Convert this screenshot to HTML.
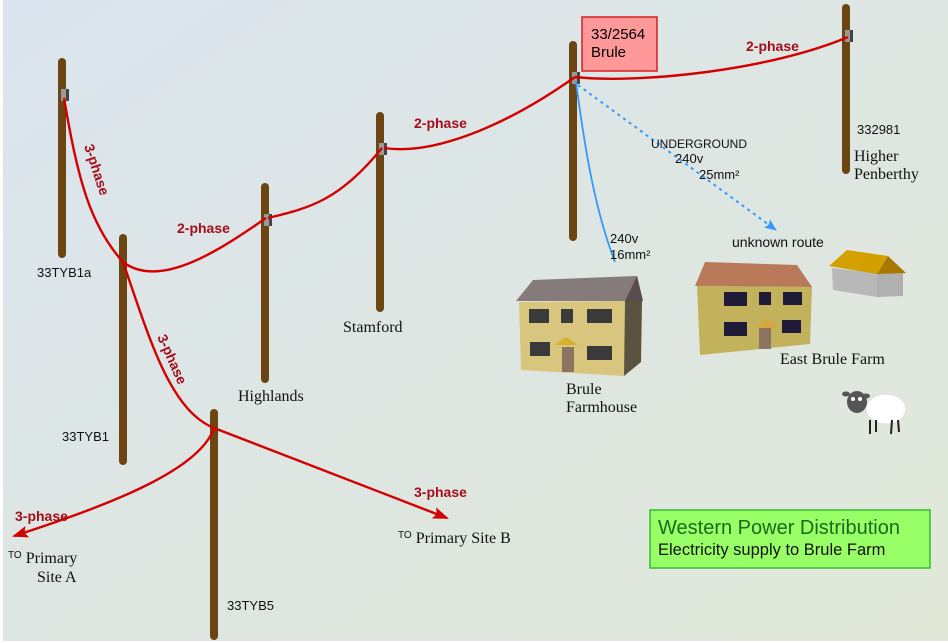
<!DOCTYPE html>
<html><head><meta charset="utf-8"><style>
html,body{margin:0;padding:0;background:#fff}
svg{display:block}
.s{font-family:"Liberation Sans",sans-serif}
.r{font-family:"Liberation Serif",serif}
.ph{font-family:"Liberation Sans",sans-serif;font-weight:bold;font-size:14px;fill:#a50d1a}
</style></head><body>
<svg width="948" height="643" viewBox="0 0 948 643" xmlns="http://www.w3.org/2000/svg">
<defs>
<linearGradient id="bg" x1="0" y1="0" x2="1" y2="1">
<stop offset="0" stop-color="#dbe4ee"/><stop offset="1" stop-color="#e1e8d8"/>
</linearGradient>
<marker id="ar" markerWidth="16" markerHeight="12" refX="14" refY="6" orient="auto" markerUnits="userSpaceOnUse"><path d="M0,0 L16,6 L0,12 L3,6Z" fill="#d40000"/></marker>
<marker id="ab" markerWidth="12" markerHeight="10" refX="11" refY="5" orient="auto" markerUnits="userSpaceOnUse"><path d="M0,0 L12,5 L0,10 L2,5Z" fill="#3399ff"/></marker>
</defs>
<rect x="3" y="0" width="945" height="641" fill="url(#bg)"/>
<g fill="#6b4612">
<rect x="58" y="58" width="8" height="200" rx="4"/>
<rect x="119" y="234" width="8" height="231" rx="4"/>
<rect x="261" y="183" width="8" height="200" rx="4"/>
<rect x="376" y="112" width="8" height="200" rx="4"/>
<rect x="569" y="41" width="8" height="200" rx="4"/>
<rect x="842" y="4" width="8" height="170" rx="4"/>
<rect x="210" y="409" width="8" height="231" rx="4"/>
</g>
<g>
<rect x="61" y="89" width="8" height="12" fill="#999"/><rect x="66" y="89" width="3" height="12" fill="#444"/>
<rect x="264" y="214" width="8" height="12" fill="#999"/><rect x="269" y="214" width="3" height="12" fill="#444"/>
<rect x="379" y="143" width="8" height="12" fill="#999"/><rect x="384" y="143" width="3" height="12" fill="#444"/>
<rect x="572" y="72" width="8" height="12" fill="#999"/><rect x="577" y="72" width="3" height="12" fill="#444"/>
<rect x="845" y="30" width="8" height="12" fill="#999"/><rect x="850" y="30" width="3" height="12" fill="#444"/>
</g>
<g fill="none" stroke="#d40000" stroke-width="2.4">
<path d="M64,98 C78,180 90,225 123,262"/>
<path d="M123,262 C160,290 220,250 266,218"/>
<path d="M268,218 C310,208 340,200 382,148"/>
<path d="M384,148 C430,155 500,130 575,77"/>
<path d="M575,77 C640,84 770,70 848,37"/>
<path d="M123,262 C150,340 170,410 214,428"/>
<path d="M214,428 C200,470 110,505 14,536" marker-end="url(#ar)"/>
<path d="M214,428 L447,518" marker-end="url(#ar)"/>
</g>
<path d="M576,82 C585,150 595,210 615,262" fill="none" stroke="#3399ff" stroke-width="1.8"/>
<path d="M578,85 L776,230" fill="none" stroke="#3399ff" stroke-width="2" stroke-dasharray="3,4" marker-end="url(#ab)"/>
<text class="ph" transform="translate(84,146) rotate(72)">3-phase</text>
<text class="ph" transform="translate(157,337) rotate(66)">3-phase</text>
<text class="ph" x="177" y="233">2-phase</text>
<text class="ph" x="414" y="128">2-phase</text>
<text class="ph" x="746" y="51">2-phase</text>
<text class="ph" x="15" y="521">3-phase</text>
<text class="ph" x="414" y="497">3-phase</text>
<rect x="582" y="17" width="75" height="54" fill="#ff9999" stroke="#d42020" stroke-width="1.5"/>
<text class="s" x="591" y="39" font-size="15">33/2564</text>
<text class="s" x="591" y="57" font-size="15">Brule</text>
<g class="s" font-size="13" fill="#111">
<text x="37" y="277">33TYB1a</text>
<text x="62" y="441">33TYB1</text>
<text x="227" y="610">33TYB5</text>
<text x="857" y="134">332981</text>
<text x="651" y="148" font-size="12">UNDERGROUND</text>
<text x="675" y="163">240v</text>
<text x="699" y="179">25mm²</text>
<text x="610" y="243">240v</text>
<text x="610" y="259">16mm²</text>
<text x="732" y="247" font-size="14">unknown route</text>
</g>
<g class="r" font-size="16" fill="#111">
<text x="238" y="401">Highlands</text>
<text x="343" y="332">Stamford</text>
<text x="854" y="161">Higher</text>
<text x="854" y="179">Penberthy</text>
<text x="566" y="394">Brule</text>
<text x="566" y="412">Farmhouse</text>
<text x="780" y="364">East Brule Farm</text>
<text x="8" y="563"><tspan font-size="10" font-family="Liberation Sans" dy="-5">TO</tspan><tspan dy="5"> Primary</tspan></text>
<text x="37" y="582">Site A</text>
<text x="398" y="543"><tspan font-size="10" font-family="Liberation Sans" dy="-5">TO</tspan><tspan dy="5"> Primary Site B</tspan></text>
</g>
<!-- Brule Farmhouse -->
<polygon points="516,301 533,280 637,276 643,301" fill="#857b7b"/>
<polygon points="625,301 637,276 643,301" fill="#5a4d4d"/>
<polygon points="519,302 625,301 624,376 521,370" fill="#d8c67e"/>
<polygon points="625,301 642,301 641,362 624,376" fill="#5b5240"/>
<g fill="#3a3a3a"><rect x="529" y="309" width="20" height="14"/><rect x="561" y="309" width="12" height="14"/><rect x="587" y="309" width="25" height="14"/><rect x="530" y="342" width="20" height="14"/><rect x="587" y="346" width="25" height="14"/></g>
<polygon points="554,345 566,337 578,345" fill="#d8b030"/>
<rect x="562" y="347" width="12" height="25" fill="#8b7560"/>
<!-- East Brule Farm -->
<polygon points="695,286 705,262 797,265 812,287" fill="#b97a5a"/>
<polygon points="697,286 812,287 810,344 700,355" fill="#c2b25c"/>
<g fill="#1e1a38"><rect x="724" y="292" width="23" height="14"/><rect x="759" y="292" width="12" height="13"/><rect x="783" y="292" width="19" height="13"/><rect x="724" y="322" width="23" height="14"/><rect x="782" y="320" width="19" height="13"/></g>
<polygon points="755,328 767,318 779,328" fill="#d4a840"/>
<rect x="759" y="328" width="12" height="21" fill="#8b7560"/>
<!-- barn -->
<polygon points="832,268 877,273 877,297 833,290" fill="#b8b8b8"/>
<polygon points="877,273 903,272 903,296 877,297" fill="#b0b0b0"/>
<polygon points="829,266 847,250 888,256 877,274" fill="#d4a000"/>
<polygon points="877,274 888,256 906,273" fill="#a87800"/>
<!-- sheep -->
<g>
<ellipse cx="886" cy="409" rx="20" ry="15" fill="#fff" stroke="#ddd"/>
<g stroke="#222" stroke-width="2"><line x1="870" y1="420" x2="870" y2="434"/><line x1="876" y1="420" x2="876" y2="432"/><line x1="892" y1="420" x2="891" y2="434"/><line x1="898" y1="420" x2="899" y2="432"/></g>
<ellipse cx="857" cy="402" rx="10" ry="11" fill="#555"/>
<ellipse cx="846" cy="394" rx="4" ry="2.5" fill="#555"/>
<ellipse cx="866" cy="396" rx="4" ry="2.5" fill="#555"/>
<circle cx="853" cy="399" r="2" fill="#fff"/><circle cx="860" cy="399" r="2" fill="#fff"/>
</g>
<!-- green box -->
<rect x="650" y="510" width="280" height="58" fill="#99ff66" stroke="#33bb33" stroke-width="1.5"/>
<text class="s" x="658" y="534" font-size="20" fill="#1a6a1a">Western Power Distribution</text>
<text class="s" x="658" y="555" font-size="16.5" fill="#111">Electricity supply to Brule Farm</text>
</svg>
</body></html>
